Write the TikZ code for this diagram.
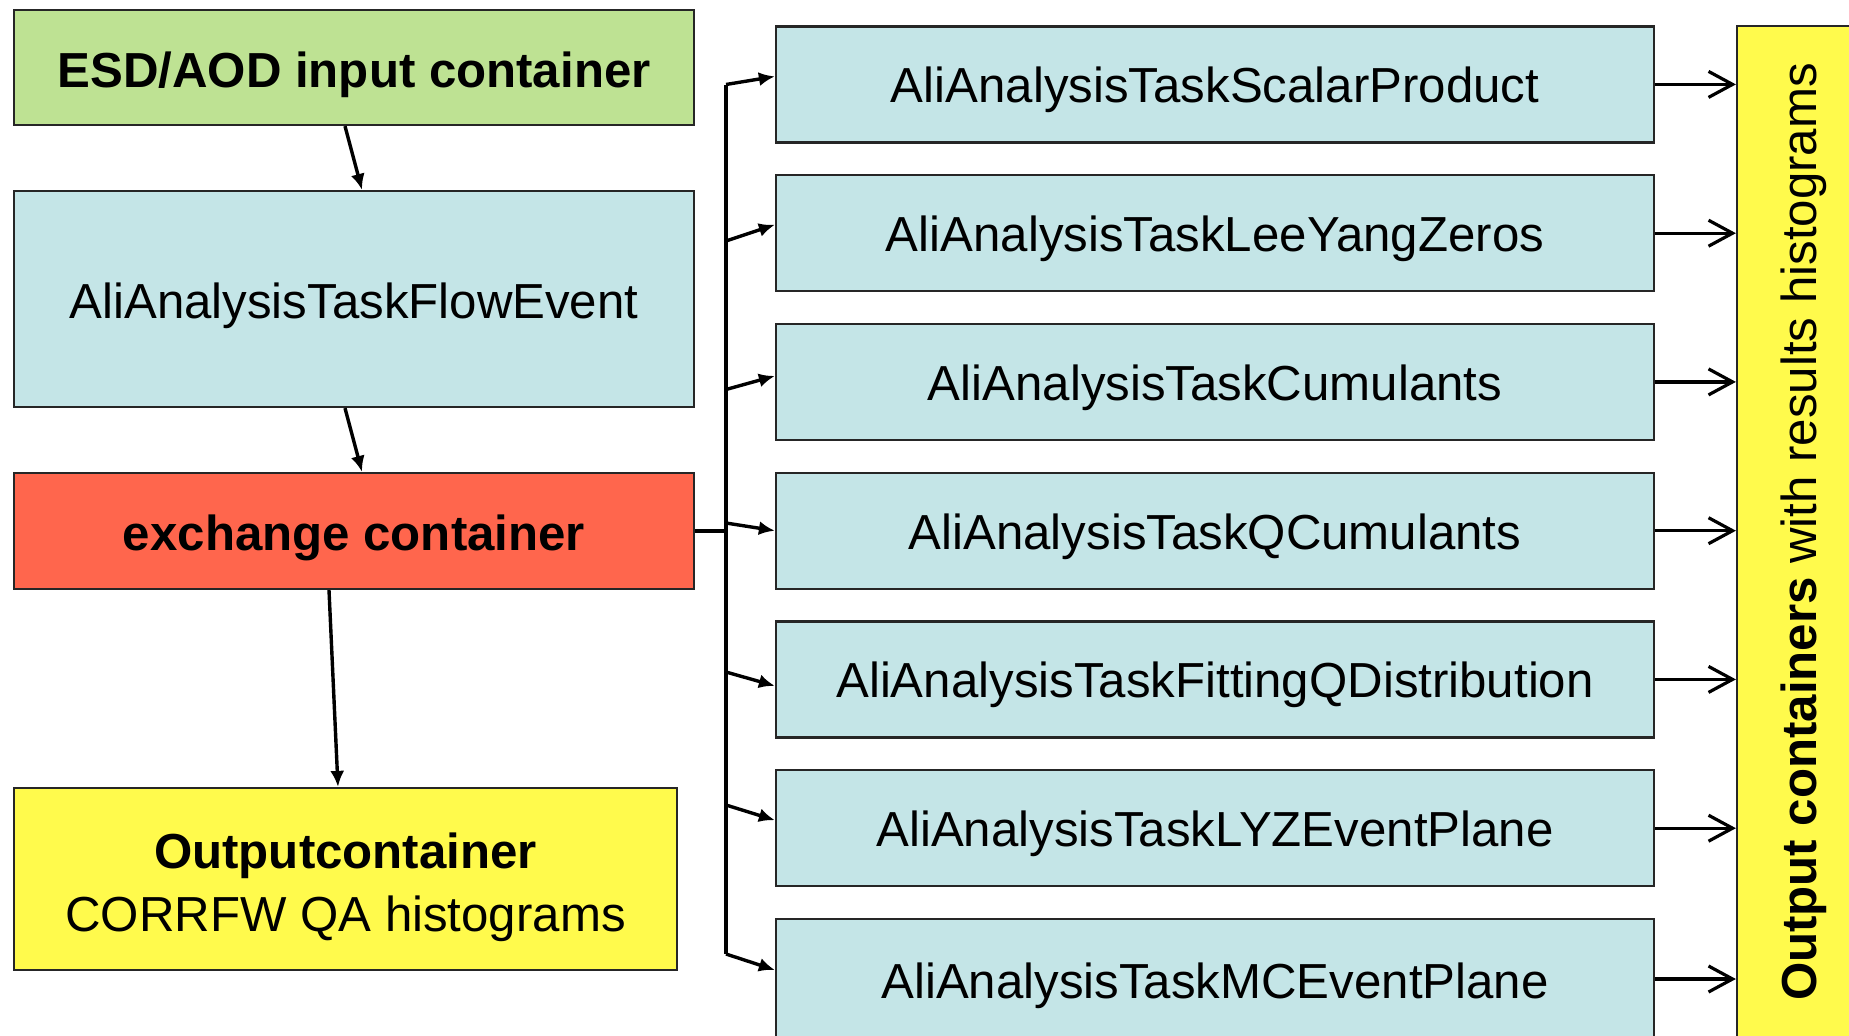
\documentclass[tikz,border=0pt]{standalone}
\usepackage{fontspec}
\setmainfont{Liberation Sans}
\usetikzlibrary{arrows.meta,calc}
\definecolor{cgreen}{RGB}{190,226,147}
\definecolor{cblue}{RGB}{196,229,231}
\definecolor{cred}{RGB}{255,102,77}
\definecolor{cyellow}{RGB}{255,250,76}
\begin{document}
\begin{tikzpicture}[x=0.5pt,y=-0.5pt,
  boxbase/.style={draw=black!85,line width=1.1pt,inner sep=0pt,align=center,font=\fontsize{24.6}{31.5}\selectfont},
  box/.style={boxbase,text height=19.8pt,text depth=0pt},
  taskbox/.style={box,fill=cblue,minimum width=439pt,minimum height=58pt,text height=18.4pt},
  conn/.style={line width=1.7pt},
  farr/.style={conn,-{Latex[length=8pt,width=7pt]}},
  oarr/.style={conn,-{Straight Barb[length=12pt,width=13pt,line width=1.6pt]}},
  busline/.style={line width=2.2pt}]
\useasboundingbox (0,0) rectangle (1849,1035);
\clip (0,0) rectangle (1849,1035);
\fill[white] (0,0) rectangle (1849,1035);

% left column
\node[box,fill=cgreen,minimum width=340pt,minimum height=57.5pt] (esd) at (354,67.5) {\textbf{ESD/AOD input container}};
\node[box,fill=cblue,minimum width=340pt,minimum height=108pt] (flow) at (354,299) {AliAnalysisTaskFlowEvent};
\node[box,fill=cred,minimum width=340pt,minimum height=58pt] (exch) at (354,531) {\textbf{exchange container}};
\node[boxbase,fill=cyellow,minimum width=331.5pt,minimum height=91pt] (outc) at (345.5,879) {\rule{0pt}{26.2pt}\textbf{Outputcontainer}\\CORRFW QA histograms};

% task boxes
\node[taskbox] (t1) at (1215,84.4) {AliAnalysisTaskScalarProduct};
\node[taskbox] (t2) at (1215,233.2) {AliAnalysisTaskLeeYangZeros};
\node[taskbox] (t3) at (1215,381.9) {AliAnalysisTaskCumulants};
\node[taskbox] (t4) at (1215,530.7) {AliAnalysisTaskQCumulants};
\node[taskbox] (t5) at (1215,679.4) {AliAnalysisTaskFittingQDistribution};
\node[taskbox] (t6) at (1215,828.2) {AliAnalysisTaskLYZEventPlane};
\node[taskbox,minimum height=62pt,text height=17.8pt] (t7) at (1215,981) {AliAnalysisTaskMCEventPlane};

% output containers box
\node[draw=black!85,line width=1.1pt,fill=cyellow,minimum width=66.5pt,minimum height=517pt,inner sep=0pt] (yel) at (1803.5,543) {};
\node[font=\fontsize{24.6}{31.5}\selectfont,rotate=90,inner sep=0pt] (outlabel) at (1804,532) {\textbf{Output containers} with results histograms};

% left column arrows
\draw[farr] ($(esd.south)+(-9,0)$) -- ($(flow.north)+(8,0)$);
\draw[farr] ($(flow.south)+(-9,0)$) -- ($(exch.north)+(8,0)$);
\draw[farr] ($(exch.south)+(-25,0)$) -- ($(outc.north)+(-7.5,0)$);

% bus
\coordinate (bt) at (726,84.5);
\coordinate (bb) at (726,954);
\draw[busline] (bt) -- (bb);
\draw[conn] (exch.east) -- (exch.east -| bt);
\coordinate (b1) at (726,84.5);
\coordinate (b2) at (726,241);
\coordinate (b3) at (726,389.5);
\coordinate (b4) at (726,523);
\coordinate (b5) at (726,672);
\coordinate (b6) at (726,805);
\coordinate (b7) at (726,954);
\draw[farr] (b1) -- ($(t1.west)+(0,-8)$);
\draw[farr] (b2) -- ($(t2.west)+(0,-8.5)$);
\draw[farr] (b3) -- ($(t3.west)+(0,-6)$);
\draw[farr] (b4) -- (t4.west);
\draw[farr] (b5) -- ($(t5.west)+(0,6.5)$);
\draw[farr] (b6) -- ($(t6.west)+(0,-8)$);
\draw[farr] (b7) -- ($(t7.west)+(0,-11)$);

% task to output arrows
\foreach \t in {t1,t2,t3,t4,t5,t6}{
  \draw[oarr] (\t.east) -- (\t.east -| yel.west);
}
\draw[oarr] ($(t7.east)+(0,-2)$) -- ($(t7.east -| yel.west)+(0,-2)$);
\end{tikzpicture}
\end{document}
